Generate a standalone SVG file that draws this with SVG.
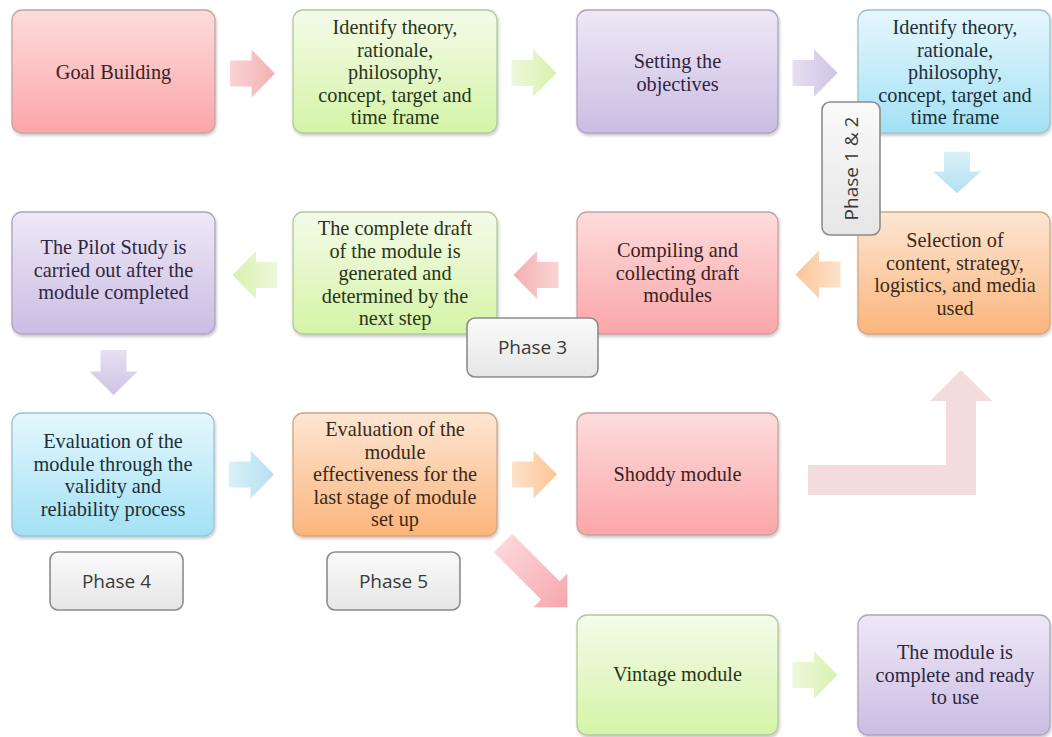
<svg xmlns="http://www.w3.org/2000/svg" xmlns:xlink="http://www.w3.org/1999/xlink" width="1052" height="737" viewBox="0 0 1052 737">
<defs>
<style>
.t{font-family:"Liberation Serif","Times New Roman",serif;font-size:20.3px;text-anchor:middle}
.ph{font-family:"Open Sans","Noto Sans",sans-serif;font-size:19px;fill:#3a3a3a;text-anchor:middle}
.box{stroke-width:1.3;filter:url(#sh)}
.pbox{fill:url(#gPh);stroke:#8c8c8c;stroke-width:1.6}
.red{fill:url(#gRed);stroke:#c7a2a4}
.grn{fill:url(#gGrn);stroke:#b5c79a}
.pur{fill:url(#gPur);stroke:#ada3c2}
.blu{fill:url(#gBlu);stroke:#9cc3d0}
.org{fill:url(#gOrg);stroke:#d2a782}
.tr{fill:#3a2222}.tg{fill:#28351a}.tp{fill:#2f2740}.tb{fill:#1c2f38}.to{fill:#3a2a1a}
</style>
<filter id="sh" x="-10%" y="-10%" width="125%" height="130%">
<feDropShadow dx="1" dy="2" stdDeviation="1.8" flood-color="#000" flood-opacity="0.22"/>
</filter>
<linearGradient id="gRed" x1="0" y1="0" x2="0" y2="1"><stop offset="0" stop-color="#fddcdc"/><stop offset="1" stop-color="#fba6a9"/></linearGradient>
<linearGradient id="gGrn" x1="0" y1="0" x2="0" y2="1"><stop offset="0" stop-color="#f4fbea"/><stop offset="1" stop-color="#d5f4a6"/></linearGradient>
<linearGradient id="gPur" x1="0" y1="0" x2="0" y2="1"><stop offset="0" stop-color="#eee8f6"/><stop offset="1" stop-color="#cbbde3"/></linearGradient>
<linearGradient id="gBlu" x1="0" y1="0" x2="0" y2="1"><stop offset="0" stop-color="#e6f7fd"/><stop offset="1" stop-color="#a2e1f5"/></linearGradient>
<linearGradient id="gOrg" x1="0" y1="0" x2="0" y2="1"><stop offset="0" stop-color="#fde6d3"/><stop offset="1" stop-color="#fbb57c"/></linearGradient>
<linearGradient id="gPh" x1="0" y1="0" x2="0" y2="1"><stop offset="0" stop-color="#fafafa"/><stop offset="1" stop-color="#e6e6e6"/></linearGradient>
<linearGradient id="aRed" x1="0" y1="0" x2="1" y2="0"><stop offset="0" stop-color="#f9d4d4"/><stop offset="1" stop-color="#f4b0b1"/></linearGradient>
<linearGradient id="aGrn" x1="0" y1="0" x2="1" y2="0"><stop offset="0" stop-color="#eef8dc"/><stop offset="1" stop-color="#d8f1ae"/></linearGradient>
<linearGradient id="aPur" x1="0" y1="0" x2="1" y2="0"><stop offset="0" stop-color="#e6e0f1"/><stop offset="1" stop-color="#cfc3e4"/></linearGradient>
<linearGradient id="aBlu" x1="0" y1="0" x2="1" y2="0"><stop offset="0" stop-color="#d9f1f9"/><stop offset="1" stop-color="#b4e0f2"/></linearGradient>
<linearGradient id="aOrg" x1="0" y1="0" x2="1" y2="0"><stop offset="0" stop-color="#fde2cb"/><stop offset="1" stop-color="#fbc595"/></linearGradient>
<linearGradient id="aDia" x1="0" y1="0" x2="1" y2="0"><stop offset="0" stop-color="#fcd6da"/><stop offset="1" stop-color="#f6a7ae"/></linearGradient>
<path id="arr" d="M-22.5,-13 H-1 V-24 L22.5,0 L-1,24 V13 H-22.5 Z"/>
</defs>
<rect width="1052" height="737" fill="#ffffff"/>

<g id="connectors">
<use xlink:href="#arr" href="#arr" fill="url(#aRed)" transform="translate(252.5,73.5)"/>
<use xlink:href="#arr" href="#arr" fill="url(#aGrn)" transform="translate(534,73)"/>
<use xlink:href="#arr" href="#arr" fill="url(#aPur)" transform="translate(815,73)"/>
<use xlink:href="#arr" href="#arr" fill="url(#aBlu)" transform="translate(957,172.5) rotate(90) scale(0.92,1)"/>
<use xlink:href="#arr" href="#arr" fill="url(#aOrg)" transform="translate(818,274.5) rotate(180)"/>
<use xlink:href="#arr" href="#arr" fill="url(#aRed)" transform="translate(536,275) rotate(180)"/>
<use xlink:href="#arr" href="#arr" fill="url(#aGrn)" transform="translate(255,275) rotate(180)"/>
<use xlink:href="#arr" href="#arr" fill="url(#aPur)" transform="translate(113.5,372.5) rotate(90)"/>
<use xlink:href="#arr" href="#arr" fill="url(#aBlu)" transform="translate(251.5,474.5)"/>
<use xlink:href="#arr" href="#arr" fill="url(#aOrg)" transform="translate(534.5,474.5)"/>
<path fill="url(#aDia)" transform="translate(503,543) rotate(45)" d="M0,-13 H67 V-24 L91,0 L67,24 V13 H0 Z"/>
<use xlink:href="#arr" href="#arr" fill="url(#aGrn)" transform="translate(815,675)"/>
<path fill="#f3dcdd" d="M808,465 H946 V401 H930 L961,370 L992,401 H976 V495 H808 Z"/>
</g>

<g id="node-goal">
<rect class="box red" x="12" y="10" width="203" height="123" rx="10"/>
<text class="t tr" x="113.5" y="79">Goal Building</text>
</g>
<g id="node-identify1">
<rect class="box grn" x="293" y="10" width="204" height="123" rx="10"/>
<text class="t tg"><tspan x="395" y="34">Identify theory,</tspan><tspan x="395" y="56.5">rationale,</tspan><tspan x="395" y="79">philosophy,</tspan><tspan x="395" y="101.5">concept, target and</tspan><tspan x="395" y="124">time frame</tspan></text>
</g>
<g id="node-objectives">
<rect class="box pur" x="577" y="10" width="201" height="123" rx="10"/>
<text class="t tp"><tspan x="677.5" y="68">Setting the</tspan><tspan x="677.5" y="90.5">objectives</tspan></text>
</g>
<g id="node-identify2">
<rect class="box blu" x="858" y="10" width="192" height="123" rx="10"/>
<text class="t tb"><tspan x="955" y="34">Identify theory,</tspan><tspan x="955" y="56.5">rationale,</tspan><tspan x="955" y="79">philosophy,</tspan><tspan x="955" y="101.5">concept, target and</tspan><tspan x="955" y="124">time frame</tspan></text>
</g>

<g id="node-selection">
<rect class="box org" x="858" y="212" width="192" height="122" rx="10"/>
<text class="t to"><tspan x="955" y="247">Selection of</tspan><tspan x="955" y="269.5">content, strategy,</tspan><tspan x="955" y="292">logistics, and media</tspan><tspan x="955" y="314.5">used</tspan></text>
</g>
<g id="node-compiling">
<rect class="box red" x="577" y="212" width="201" height="122" rx="10"/>
<text class="t tr"><tspan x="677.5" y="257">Compiling and</tspan><tspan x="677.5" y="279.5">collecting draft</tspan><tspan x="677.5" y="302">modules</tspan></text>
</g>
<g id="node-draft">
<rect class="box grn" x="293" y="212" width="204" height="122" rx="10"/>
<text class="t tg"><tspan x="395" y="235">The complete draft</tspan><tspan x="395" y="257.5">of the module is</tspan><tspan x="395" y="280">generated and</tspan><tspan x="395" y="302.5">determined by the</tspan><tspan x="395" y="325">next step</tspan></text>
</g>
<g id="node-pilot">
<rect class="box pur" x="12" y="212" width="203" height="122" rx="10"/>
<text class="t tp"><tspan x="113.5" y="254">The Pilot Study is</tspan><tspan x="113.5" y="276.5">carried out after the</tspan><tspan x="113.5" y="299">module completed</tspan></text>
</g>

<g id="node-eval1">
<rect class="box blu" x="12" y="413" width="202" height="123" rx="10"/>
<text class="t tb"><tspan x="113" y="448">Evaluation of the</tspan><tspan x="113" y="470.5">module through the</tspan><tspan x="113" y="493">validity and</tspan><tspan x="113" y="515.5">reliability process</tspan></text>
</g>
<g id="node-eval2">
<rect class="box org" x="293" y="413" width="204" height="123" rx="10"/>
<text class="t to"><tspan x="395" y="436">Evaluation of the</tspan><tspan x="395" y="458.5">module</tspan><tspan x="395" y="481">effectiveness for the</tspan><tspan x="395" y="503.5">last stage of module</tspan><tspan x="395" y="526">set up</tspan></text>
</g>
<g id="node-shoddy">
<rect class="box red" x="577" y="413" width="201" height="122" rx="10"/>
<text class="t tr" x="677.5" y="481">Shoddy module</text>
</g>
<g id="node-vintage">
<rect class="box grn" x="577" y="615" width="201" height="120" rx="10"/>
<text class="t tg" x="677.5" y="681">Vintage module</text>
</g>
<g id="node-complete">
<rect class="box pur" x="858" y="615" width="192" height="120" rx="10"/>
<text class="t tp"><tspan x="955" y="659">The module is</tspan><tspan x="955" y="681.5">complete and ready</tspan><tspan x="955" y="704">to use</tspan></text>
</g>

<g id="label-phase12">
<rect class="pbox" x="822" y="102" width="58" height="133" rx="8"/>
<text class="ph" transform="translate(857.5,168.5) rotate(-90)" x="0" y="0">Phase 1 &amp; 2</text>
</g>
<g id="label-phase3">
<rect class="pbox" x="467" y="318" width="131" height="59" rx="8"/>
<text class="ph" x="532.5" y="354">Phase 3</text>
</g>
<g id="label-phase4">
<rect class="pbox" x="50" y="552" width="133" height="58" rx="8"/>
<text class="ph" x="116.5" y="587.5">Phase 4</text>
</g>
<g id="label-phase5">
<rect class="pbox" x="327" y="552" width="133" height="58" rx="8"/>
<text class="ph" x="393.5" y="587.5">Phase 5</text>
</g>
</svg>
